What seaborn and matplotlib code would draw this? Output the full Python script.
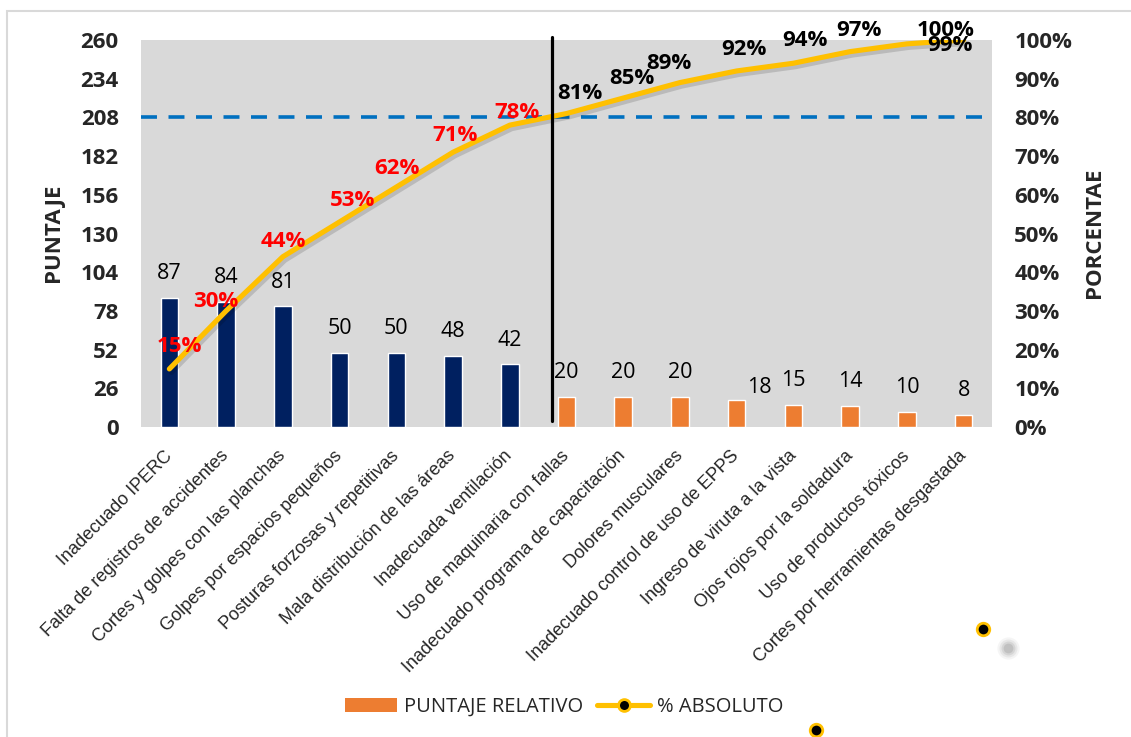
import numpy as np
import pandas as pd
import matplotlib
matplotlib.use("Agg")
import matplotlib.pyplot as plt
import seaborn as sns
import matplotlib.patheffects as pe
from matplotlib.patches import Patch, Rectangle
from matplotlib.lines import Line2D
from matplotlib.ticker import FixedLocator, PercentFormatter

# ---- data -------------------------------------------------------------
causas = [
    "Inadecuado IPERC",
    "Falta de registros de accidentes",
    "Cortes y golpes con las planchas",
    "Golpes por espacios pequeños",
    "Posturas forzosas y repetitivas",
    "Mala distribución de las áreas",
    "Inadecuada ventilación",
    "Uso de maquinaria con fallas",
    "Inadecuado programa de capacitación",
    "Dolores musculares",
    "Inadecuado control de uso de EPPS",
    "Ingreso de viruta a la vista",
    "Ojos rojos por la soldadura",
    "Uso de productos tóxicos",
    "Cortes por herramientas desgastada",
]
puntaje = [87, 84, 81, 50, 50, 48, 42, 20, 20, 20, 18, 15, 14, 10, 8]
grupo = ["vitales"] * 7 + ["triviales"] * 8
porcentaje_abs = [15, 30, 44, 53, 62, 71, 78, 81, 85, 89, 92, 94, 97, 99, 100]
umbral = 80          # Pareto threshold (%)
corte = 6.75         # separation between the vital few and the trivial many
ticks_puntaje = list(range(0, 261, 26))
ticks_pct = [i / 10 for i in range(11)]

# ---- styling ----------------------------------------------------------
NAVY = "#002060"
ORANGE = "#ED7D31"
YELLOW = "#FFC000"
BLUE = "#0070C0"
BG = "#D9D9D9"
FAM = ["Open Sans", "DejaVu Sans"]

sns.set_style("white")
plt.rcParams["font.family"] = FAM
plt.rcParams["lines.scale_dashes"] = False

W, H = 1131, 737
fig = plt.figure(figsize=(W / 100, H / 100), dpi=100)
ax = fig.add_axes([141 / W, 1 - 427 / H, (992 - 141) / W, (427 - 40) / H])
ax.set_facecolor(BG)

df = pd.DataFrame({"causa": causas, "puntaje": puntaje, "grupo": grupo})
sns.barplot(data=df, x="causa", y="puntaje", hue="grupo",
            palette={"vitales": NAVY, "triviales": ORANGE},
            width=0.31, dodge=False, legend=False, saturation=1, ax=ax)

ax.set_xlim(-0.5, len(causas) - 0.5)
ax.set_ylim(0, 260)
ax.yaxis.set_major_locator(FixedLocator(ticks_puntaje))
ax.set_xlabel("")
ax.set_ylabel("")
for s in ax.spines.values():
    s.set_visible(False)
ax.tick_params(axis="y", length=0, pad=16, labelsize=16)
for t in ax.get_yticklabels():
    t.set_fontweight("bold")
ax.tick_params(axis="x", length=0, pad=19)
for t in ax.get_xticklabels():
    t.set_family(["Liberation Sans", "DejaVu Sans"])
    t.set_fontsize(13)
    t.set_rotation(45)
    t.set_ha("right")
    t.set_va("center")
    t.set_rotation_mode("anchor")

# value labels above the bars
etiqueta_dx = {10: 16}
etiqueta_dy = {10: 5}
for i, v in enumerate(puntaje):
    ax.annotate(str(v), (i, v), xytext=(etiqueta_dx.get(i, 0), etiqueta_dy.get(i, 13.5)),
                textcoords="offset points", ha="center", va="baseline",
                fontsize=15.5, color="black", family=FAM)

# ---- cumulative percentage on the secondary axis ----------------------
ax2 = ax.twinx()
pct = pd.DataFrame({"x": np.arange(len(causas)), "pct": [p / 100 for p in porcentaje_abs]})
sns.lineplot(data=pct, x="x", y="pct", color=YELLOW, linewidth=3.7, ax=ax2,
             solid_capstyle="round", solid_joinstyle="round")
ax2.lines[-1].set_path_effects([
    pe.SimpleLineShadow(offset=(1.5, -2.5), shadow_color="black", alpha=0.14),
    pe.Normal(),
])
ax2.set_ylim(0, 1)
ax2.set_xlim(-0.5, len(causas) - 0.5)
ax2.yaxis.set_major_locator(FixedLocator(ticks_pct))
ax2.yaxis.set_major_formatter(PercentFormatter(1.0, decimals=0))
ax2.set_xlabel("")
ax2.set_ylabel("")
for s in ax2.spines.values():
    s.set_visible(False)
ax2.tick_params(axis="y", length=0, pad=16, labelsize=16)
for t in ax2.get_yticklabels():
    t.set_fontweight("bold")

# 80 % reference and Pareto cut
ax2.axhline(umbral / 100, color=BLUE, lw=2.6, dashes=(11.5, 8.3), zorder=1)
ax2.axvline(corte, ymin=0.0155, ymax=1.008, color="black", lw=2.3, clip_on=False, zorder=3)

# percentage labels on the curve (offsets in pixels, y downward)
pct_offsets = [(10, -22), (-10, -9), (0, -15), (13, -21), (1, -19), (2, -17), (7, -13),
               (13, -20), (9, -20), (-11, -19), (7, -21), (12, -23), (9, -21), (43, 2), (-18, -10)]
for i, p in enumerate(porcentaje_abs):
    dx, dy = pct_offsets[i]
    ax2.annotate(f"{p}%", (i, p / 100), xytext=(dx * 0.72, -dy * 0.72),
                 textcoords="offset points", ha="center", va="center",
                 fontsize=16, fontweight="bold",
                 color="#FF0000" if i < 7 else "black", zorder=5)

# axis titles
fig.text(53 / W, 1 - 233 / H, "PUNTAJE", rotation=90, ha="center", va="center",
         fontsize=16, fontweight="bold")
fig.text(1094 / W, 1 - 233 / H, "PORCENTAE", rotation=90, ha="center", va="center",
         fontsize=16, fontweight="bold")

# legend
handles = [
    Patch(facecolor=ORANGE, edgecolor="none"),
    Line2D([0], [0], color=YELLOW, lw=3.7, marker="o", markersize=8.5,
           markerfacecolor="black", markeredgecolor=YELLOW, markeredgewidth=2),
]
fig.legend(handles, ["PUNTAJE RELATIVO", "% ABSOLUTO"], loc="center",
           bbox_to_anchor=(564 / W, 1 - 707 / H), ncol=2, frameon=False,
           prop={"family": FAM, "size": 14.5}, handlelength=2.6, handleheight=0.7,
           columnspacing=0.7, handletextpad=0.35)

# stray series markers outside the plot
for (px, py) in [(983, 629), (816, 730)]:
    fig.add_artist(Line2D([px / W], [1 - py / H], transform=fig.transFigure,
                          marker="o", markersize=9, markerfacecolor="black",
                          markeredgecolor=YELLOW, markeredgewidth=2, linestyle="none"))
for ms, a in [(16, 0.08), (13, 0.12), (10, 0.18), (7, 0.25)]:
    fig.add_artist(Line2D([1008 / W], [1 - 648 / H], transform=fig.transFigure,
                          marker="o", markersize=ms, markerfacecolor="#888888",
                          markeredgecolor="none", alpha=a, linestyle="none"))

# chart frame
fig.add_artist(Rectangle((7 / W, -0.1), 1.2, 1.1 - 11 / H, transform=fig.transFigure,
                         fill=False, edgecolor="#D9D9D9", lw=1.5))

fig.savefig("out.png", dpi=100)
